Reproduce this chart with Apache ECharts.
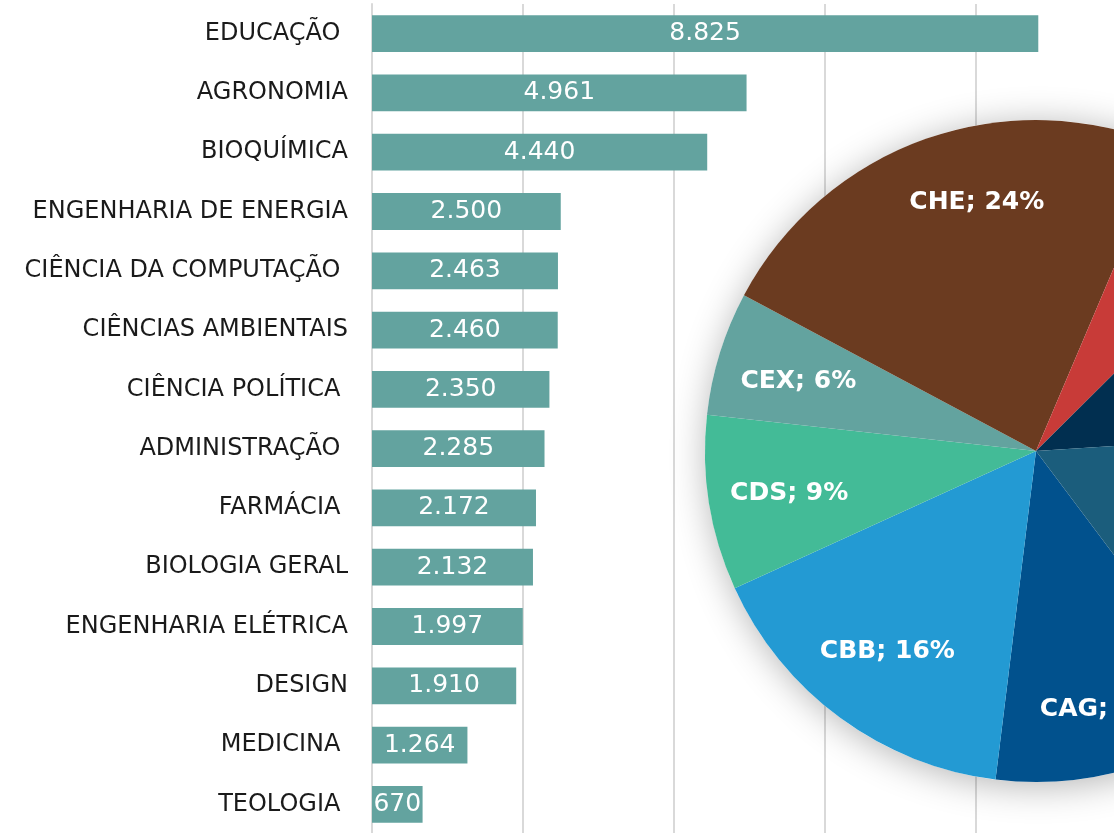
<!DOCTYPE html>
<html>
<head>
<meta charset="utf-8">
<script src="https://cdn.jsdelivr.net/npm/echarts@6/dist/echarts.min.js"></script>
<style>
  html, body { margin: 0; padding: 0; background: #fff; }
  #chart { width: 1114px; height: 833px; }
</style>
</head>
<body>
<div id="chart"></div>
<script>
// barras: cursos (alguns rótulos têm espaço no fim, como no original)
const cursos = ['EDUCAÇÃO ', 'AGRONOMIA', 'BIOQUÍMICA', 'ENGENHARIA DE ENERGIA', 'CIÊNCIA DA COMPUTAÇÃO ',
  'CIÊNCIAS AMBIENTAIS', 'CIÊNCIA POLÍTICA ', 'ADMINISTRAÇÃO ', 'FARMÁCIA ', 'BIOLOGIA GERAL',
  'ENGENHARIA ELÉTRICA', 'DESIGN', 'MEDICINA ', 'TEOLOGIA ']
const valores = [8825, 4961, 4440, 2500, 2463, 2460, 2350, 2285, 2172, 2132, 1997, 1910, 1264, 670]

// pizza: centros (fatias cortadas à direita não têm rótulo visível)
const centros = ['CAG', 'CBB', 'CDS', 'CEX', 'CHE', 'CSA', 'CTC', 'CTE']
const partes = [12.2, 16.25, 8.55, 6.05, 23.6, 6.15, 11.45, 15.75]
const mostrarRotulo = [true, true, true, true, true, false, false, false]
const cores = ['#01518d', '#239ad3', '#43bb97', '#63a39f', '#6b3b20', '#c83b38', '#012f50', '#1b5d7c']
// pequenos deslocamentos dos rótulos [dx, dy] em px
const desloc = [[7, 14], [1, -3], [3, 3], [4, 5], [25, -10], [0, 0], [0, 0], [0, 0]]

const chart = echarts.init(document.getElementById('chart'))

const fmt = v => String(v).replace(/\B(?=(\d{3})+(?!\d))/g, '.')

const pieData = centros.map((n, i) => ({ name: n, value: partes[i], itemStyle: { color: cores[i] } }))
const labelData = centros.map((n, i) => {
  const [dx, dy] = desloc[i]
  return {
    name: n, value: partes[i],
    label: {
      show: mostrarRotulo[i],
      padding: [0, dx < 0 ? -2 * dx : 0, 0, dx > 0 ? 2 * dx : 0],
      formatter: '{t|{b}; {d}%}',
      rich: { t: { padding: [dy > 0 ? 2 * dy : 0, 0, dy < 0 ? -2 * dy : 0, 0] } }
    }
  }
})

chart.setOption({
  backgroundColor: '#fff',
  animation: false,
  grid: { left: 372, top: 4, width: 755, height: 830, containLabel: false, outerBoundsMode: 'none' },
  xAxis: {
    type: 'value', min: 0, max: 10000, interval: 2000,
    axisLabel: { show: false },
    axisTick: { show: false },
    axisLine: { show: false },
    splitLine: { lineStyle: { color: '#d9d9d9', width: 2 } }
  },
  yAxis: {
    type: 'category', inverse: true, data: cursos,
    axisTick: { show: false },
    axisLine: { lineStyle: { color: '#d9d9d9', width: 2 } },
    axisLabel: { margin: 24, fontSize: 24, color: '#1a1a1a', fontFamily: 'DejaVu Sans' }
  },
  series: [
    {
      type: 'bar', data: valores, barCategoryGap: '38%',
      itemStyle: { color: '#63a39f' },
      label: {
        show: true, position: 'inside', color: '#fff', fontSize: 25,
        fontFamily: 'DejaVu Sans', formatter: p => fmt(p.value)
      }
    },
    {
      // sombra atrás da pizza
      type: 'pie', center: [1036, 451], radius: 331, silent: true,
      label: { show: false }, labelLine: { show: false },
      itemStyle: { color: '#fff', shadowBlur: 36, shadowColor: 'rgba(0,0,0,0.3)', shadowOffsetX: 2, shadowOffsetY: 4 },
      data: [{ value: 1 }]
    },
    {
      type: 'pie', center: [1036, 451], radius: 331, startAngle: 306.9, silent: true,
      label: { show: false }, labelLine: { show: false },
      itemStyle: { borderWidth: 0 },
      data: pieData
    },
    {
      // anel transparente só para posicionar os rótulos a ~75% do raio
      type: 'pie', center: [1036, 451], radius: [169, 331], startAngle: 306.9, silent: true,
      percentPrecision: 0,
      itemStyle: { color: 'rgba(0,0,0,0)' },
      labelLine: { show: false },
      label: {
        position: 'inside', color: '#fff',
        fontSize: 25, fontWeight: 'bold', fontFamily: 'DejaVu Sans'
      },
      data: labelData
    }
  ]
})
</script>
</body>
</html>
